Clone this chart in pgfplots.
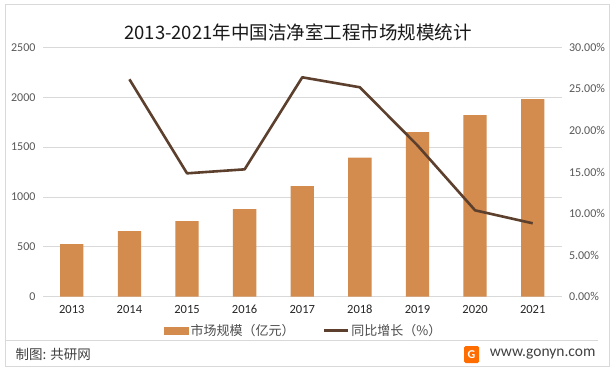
\documentclass[border=0pt]{standalone}
\usepackage{pgfplots}
\pgfplotsset{compat=1.18}
\usepackage{fontspec}
\setmainfont{Carlito}
\newfontfamily\cjk{Noto Sans CJK SC}
\definecolor{barc}{HTML}{D38B4E}
\definecolor{linec}{HTML}{5C3F2C}
\definecolor{gridc}{HTML}{D9D9D9}
\definecolor{tickc}{HTML}{595959}
\definecolor{framec}{HTML}{D9D9D9}
\begin{document}
\begin{tikzpicture}[x=1pt,y=1pt]
\useasboundingbox (0,0) rectangle (615,372);
\fill[white] (0,0) rectangle (615,372);
\draw[framec, line width=0.8pt] (5,6) rectangle (609.5,367.7);
\draw[framec, line width=0.8pt] (5,31.3) -- (598,31.3);
% bars
\begin{axis}[
  at={(43pt,75.3pt)}, anchor=south west,
  scale only axis, width=518.5pt, height=249.4pt,
  xmin=-0.5, xmax=8.5, ymin=0, ymax=2500,
  ytick={0,500,...,2500},
  xtick={0,...,8},
  xticklabels={2013,2014,2015,2016,2017,2018,2019,2020,2021},
  axis line style={draw=none},
  axis x line*=bottom, axis y line*=left,
  tick style={draw=none},
  ymajorgrids, grid style={gridc, line width=0.8pt},
  /pgf/number format/assume math mode=true,
  /pgf/number format/set thousands separator={},
  yticklabel style={font=\fontsize{12}{14}\selectfont, text=tickc, xshift=-4pt},
  xticklabel style={font=\fontsize{12.5}{14}\selectfont, text=black!85, yshift=-5pt},
  clip=false,
]
\draw[gridc, line width=0.8pt] (axis cs:-0.5,0) -- (axis cs:8.5,0);
\addplot[ybar, bar width=23.3pt, fill=barc, draw=none] coordinates {
(0,528) (1,658) (2,758) (3,877) (4,1108) (5,1395) (6,1650) (7,1820) (8,1981)};
\end{axis}
% line
\begin{axis}[
  at={(43pt,75.3pt)}, anchor=south west,
  scale only axis, width=518.5pt, height=249.4pt,
  xmin=-0.5, xmax=8.5, ymin=0, ymax=30,
  ytick={0,5,...,30},
  xtick=\empty,
  axis line style={draw=none},
  axis y line*=right, axis x line=none,
  tick style={draw=none},
  /pgf/number format/assume math mode=true,
  yticklabel={\pgfmathprintnumber[fixed,fixed zerofill,precision=2]{\tick}\%},
  yticklabel style={font=\fontsize{12}{14}\selectfont, text=tickc, xshift=4pt},
  legend style={at={(0.503,-0.135)}, anchor=center, draw=none, fill=none,
    font=\cjk\fontsize{13}{15}\selectfont, text=black!70,
    /tikz/every even column/.append style={column sep=26pt}},
  legend columns=2,
  clip=false,
]
\addlegendimage{legend image code/.code={\fill[barc] (0pt,-3.5pt) rectangle (24pt,3.5pt);}}
\addlegendentry{市场规模（亿元）}
\addplot[linec, line width=2.6pt, line join=round,
  legend image code/.code={\draw[linec, line width=2.6pt] (0pt,0pt) -- (24pt,0pt);}]
coordinates {(1,26.15) (2,14.84) (3,15.32) (4,26.39) (5,25.19) (6,18.2) (7,10.39) (8,8.83)};
\addlegendentry{同比增长（\%）}
\end{axis}
\node[font=\cjk\fontsize{18.5}{20}\selectfont, text=black!90] at (298,340) {2013-2021年中国洁净室工程市场规模统计};
\node[font=\cjk\fontsize{13.5}{15}\selectfont, text=black!75, anchor=west] at (12,17.5) {制图: 共研网};
\node[font=\fontsize{15.5}{17}\selectfont, text=black!75, anchor=east] at (599,17.5) {www.gonyn.com};
\fill[orange!85!red, rounded corners=1.5pt] (464,9) rectangle (479,26);
\node[font=\bfseries\fontsize{12}{12}\selectfont, text=white] at (471.5,17.5) {G};
\end{tikzpicture}
\end{document}
